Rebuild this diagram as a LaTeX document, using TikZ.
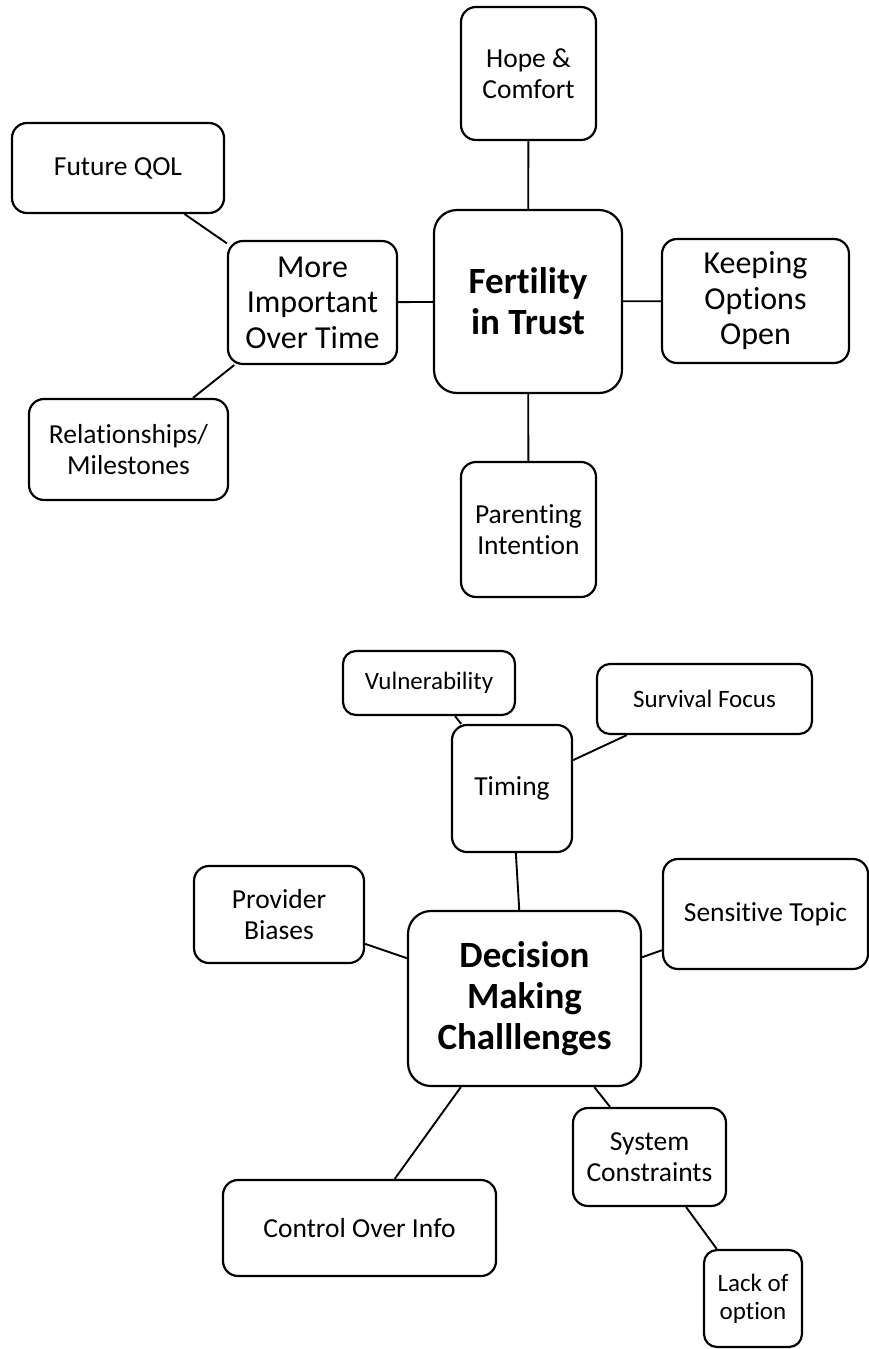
\documentclass[tikz,border=0pt]{standalone}
\usepackage{fontspec}
\setmainfont{Carlito}[Ligatures=NoCommon]

\begin{document}
\begin{tikzpicture}[x=1pt, y=-1pt,
    box/.style={draw, line width=2.2pt, rounded corners=15pt, align=center, inner sep=0pt, font=\fontsize{27.5}{31}\selectfont},
    bigbox/.style={box, font=\fontsize{32}{35.5}\selectfont},
    smallbox/.style={box, rounded corners=13pt, font=\fontsize{25}{28}\selectfont},
    hub/.style={box, rounded corners=23pt, font=\fontsize{37}{41}\selectfont\bfseries},
    link/.style={line width=1.9pt}]
    \useasboundingbox (0,0) rectangle (869,1349);

    % Fertility in Trust
    \node[hub, minimum width=188pt, minimum height=183pt] (trust) at (528,301.5) {Fertility\\in Trust};
    \node[box, minimum width=135pt, minimum height=133pt] (hope) at (528.5,73.5) {Hope \&\\Comfort};
    \node[bigbox, minimum width=187pt, minimum height=124pt] (options) at (755.5,301) {Keeping\\Options\\Open};
    \node[bigbox, minimum width=169pt, minimum height=123pt] (overtime) at (312.5,302.5) {More\\Important\\Over Time};
    \node[box, minimum width=212pt, minimum height=90pt] (qol) at (118,168) {Future QOL};
    \node[box, minimum width=199pt, minimum height=101pt] (milestones) at (128.5,449.5) {Relationships/\\Milestones};
    \node[box, minimum width=135pt, minimum height=135pt] (parenting) at (528.5,529.5) {Parenting\\Intention};

    % Decision making
    \node[hub, minimum width=233pt, minimum height=175pt] (decision) at (524.5,998.5) {Decision\\Making\\Challlenges};
    \node[box, minimum width=120pt, minimum height=127pt] (timing) at (512,788.5) {Timing};
    \node[smallbox, minimum width=172pt, minimum height=64pt] (vulner) at (429,683) {Vulnerability};
    \node[smallbox, minimum width=215pt, minimum height=70pt] (survival) at (704.5,699) {Survival Focus};
    \node[box, minimum width=170pt, minimum height=97pt] (biases) at (279,914.5) {Provider\\Biases};
    \node[box, minimum width=205pt, minimum height=110pt] (sensitive) at (765.5,914) {Sensitive Topic};
    \node[box, minimum width=273pt, minimum height=96pt] (control) at (359.5,1228) {Control Over Info};
    \node[box, minimum width=153pt, minimum height=98pt] (system) at (649.5,1157) {System\\Constraints};
    \node[smallbox, minimum width=98pt, minimum height=97pt] (lack) at (753,1298.5) {Lack of\\option};

    % Links
    \draw[link] (trust) -- (hope);
    \draw[link] (trust) -- (options);
    \draw[link] (trust) -- (overtime);
    \draw[link] (trust) -- (parenting);
    \draw[link] (overtime) -- (qol);
    \draw[link] (overtime) -- (milestones);
    \draw[link] (timing) -- (vulner);
    \draw[link] (timing) -- (survival);
    \draw[link] (decision) -- (timing);
    \draw[link] (decision) -- (biases);
    \draw[link] (decision) -- (sensitive);
    \draw[link] (decision) -- (control);
    \draw[link] (decision) -- (system);
    \draw[link] (system) -- (lack);
\end{tikzpicture}
\end{document}
